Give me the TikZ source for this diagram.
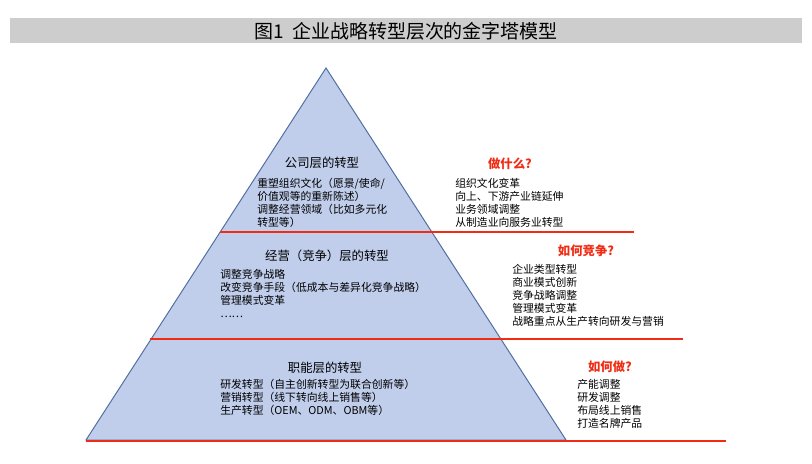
\documentclass[tikz,border=0pt]{standalone}
\usepackage{fontspec}
\setmainfont{Noto Sans CJK SC}
\begin{document}
\begin{tikzpicture}[x=0.025cm,y=-0.025cm,
  body/.style={font=\fontsize{7.7}{9.3}\selectfont,align=left,anchor=north west,inner sep=0pt},
  head/.style={font=\fontsize{8.8}{10}\selectfont,inner sep=0pt},
  qhead/.style={font=\fontsize{8.8}{10}\selectfont\bfseries,text=qred,inner sep=0pt},
  redline/.style={draw=qred,line width=1.1pt}]
\definecolor{qred}{RGB}{240,45,20}
\definecolor{tri}{RGB}{192,206,236}
\definecolor{triedge}{RGB}{80,110,160}
\definecolor{bar}{RGB}{205,205,205}
\useasboundingbox (0,0) rectangle (812,464);
\fill[bar] (10,18) rectangle (802,43);
\node[font=\fontsize{13.5}{14}\selectfont] (title) at (406,31) {图1\ \ 企业战略转型层次的金字塔模型};
\coordinate (apex) at (326,68);
\coordinate (bl) at (86,440);
\coordinate (br) at (566,440);
\filldraw[fill=tri,draw=triedge,line width=0.7pt] (apex) -- (br) -- (bl) -- cycle;
\coordinate (a1) at (220,232); \coordinate (b1) at (634,232);
\coordinate (a2) at (150,339); \coordinate (b2) at (683,339);
\coordinate (a3) at (86,441); \coordinate (b3) at (726,441);
\draw[redline] (a1) -- (b1);
\draw[redline] (a2) -- (b2);
\draw[redline] (a3) -- (b3);
\node[head] (h1) at (322,163) {公司层的转型};
\node[body] (t1) at (257,178) {重塑组织文化（愿景/使命/\\价值观等的重新陈述）\\调整经营领域（比如多元化\\转型等）};
\node[qhead] (q1) at (510,164) {做什么?};
\node[body] (r1) at (455,178) {组织文化变革\\向上、下游产业链延伸\\业务领域调整\\从制造业向服务业转型};
\node[head] (h2) at (327,256) {经营（竞争）层的转型};
\node[body] (t2) at (220,269) {调整竞争战略\\改变竞争手段（低成本与差异化竞争战略）\\管理模式变革\\……};
\node[qhead] (q2) at (586,251) {如何竞争?};
\node[body] (r2) at (512,264) {企业类型转型\\商业模式创新\\竞争战略调整\\管理模式变革\\战略重点从生产转向研发与营销};
\node[head] (h3) at (325,368) {职能层的转型};
\node[body] (t3) at (220,379) {研发转型（自主创新转型为联合创新等）\\营销转型（线下转向线上销售等）\\生产转型（OEM、ODM、OBM等）};
\node[qhead] (q3) at (610,367) {如何做?};
\node[body] (r3) at (577,379) {产能调整\\研发调整\\布局线上销售\\打造名牌产品};
\end{tikzpicture}
\end{document}
